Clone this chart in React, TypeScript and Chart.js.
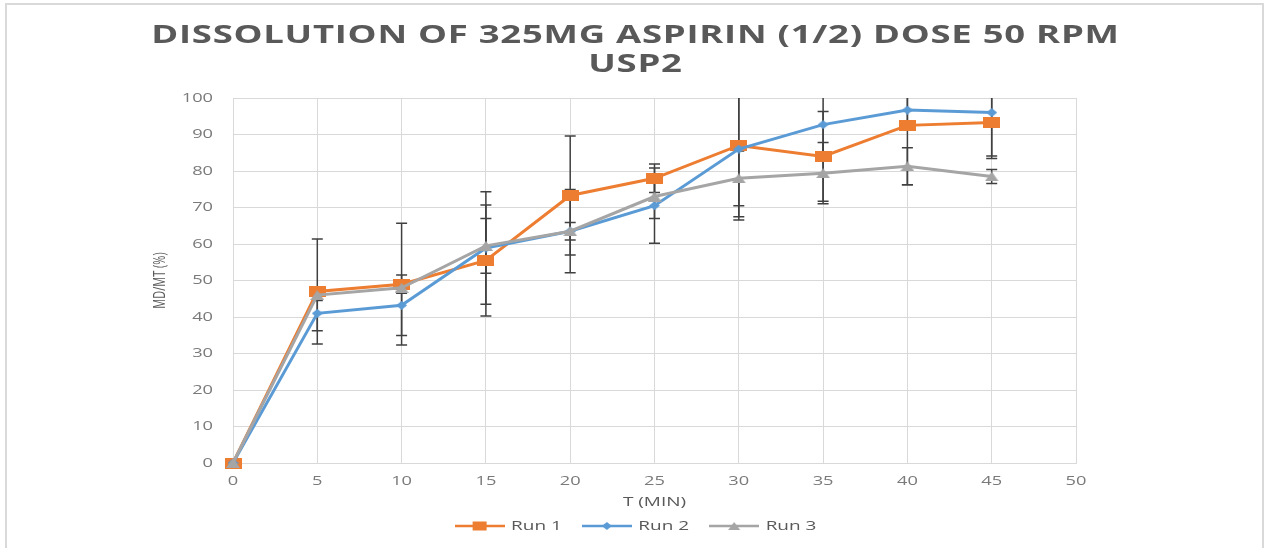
import React, { useEffect, useRef } from 'react';
import { Chart, registerables } from 'chart.js';

Chart.register(...registerables);

// ---------- data ----------
const times = [0, 5, 10, 15, 20, 25, 30, 35, 40, 45];
const run1 = [0, 47, 49, 55.5, 73.3, 78, 87, 84, 92.5, 93.3];
const run2 = [0, 41, 43.2, 58.9, 63.5, 70.5, 86, 92.7, 96.7, 96];
const run3 = [0, 46, 48, 59.5, 63.5, 73, 78, 79.4, 81.3, 78.5];
const err1 = [0, 14.4, 16.7, 15.2, 16.3, 3.9, 20.4, 12.3, 16.3, 9.2];
const err2 = [0, 4.8, 8.3, 15.4, 2.4, 10.3, 18.5, 9, 5, 12.6];
const err3 = [0, 1.5, 1.5, 7.5, 11.4, 6, 7.5, 8.4, 5.1, 1.9];
const seriesNames = ['Run 1', 'Run 2', 'Run 3'];
const titleLines = ['DISSOLUTION OF 325MG ASPIRIN (1/2) DOSE 50 RPM', 'USP2'];
const xTitle = 'T (MIN)';
const yTitle = 'MD/MT (%)';

// ---------- styles ----------
const FONT = "'Open Sans', 'DejaVu Sans', sans-serif";
const STRETCH = 1.46;
const TITLE_SPACING = '0.5px';
const COLORS = ['#ED7D31', '#5B9BD5', '#A5A5A5'];
const SHAPES = ['square', 'diamond', 'triangle'];
const POINT_SIZES = [[17, 11], [11, 9], [14, 10]];
const LEGEND_SIZES = [[14, 9], [10, 8], [12, 8]];
const GRID = '#d9d9d9';
const TICK = '#7a7a7a';
const TEXT = '#595959';
const ERR = '#404040';
const CAP = 5.5;

function drawShape(ctx: CanvasRenderingContext2D, shape: string, cx: number, cy: number, w: number, h: number) {
  ctx.beginPath();
  if (shape === 'square') {
    ctx.rect(cx - w / 2, cy - h / 2, w, h);
  } else if (shape === 'diamond') {
    ctx.moveTo(cx, cy - h / 2);
    ctx.lineTo(cx + w / 2, cy);
    ctx.lineTo(cx, cy + h / 2);
    ctx.lineTo(cx - w / 2, cy);
    ctx.closePath();
  } else {
    ctx.moveTo(cx, cy - h / 2);
    ctx.lineTo(cx + w / 2, cy + h / 2);
    ctx.lineTo(cx - w / 2, cy + h / 2);
    ctx.closePath();
  }
  ctx.fill();
}

function makePoint(shape: string, w: number, h: number, color: string) {
  const c = document.createElement('canvas');
  c.width = w;
  c.height = h;
  const g = c.getContext('2d')!;
  g.fillStyle = color;
  drawShape(g, shape, w / 2, h / 2, w, h);
  return c;
}

function makeLegendGlyph(shape: string, w: number, h: number, color: string) {
  const c = document.createElement('canvas');
  c.width = 50;
  c.height = 14;
  const g = c.getContext('2d')!;
  g.strokeStyle = color;
  g.lineWidth = 2.5;
  g.beginPath();
  g.moveTo(0, 7);
  g.lineTo(50, 7);
  g.stroke();
  g.fillStyle = color;
  drawShape(g, shape, 25, 7, w, h);
  return c;
}

// the reference picture is stretched horizontally; reproduce that on the text
function stretchContext(ctx: any, sx: number) {
  if (ctx.__stretched) return;
  ctx.__stretched = true;
  const fill = ctx.fillText.bind(ctx);
  const measure = ctx.measureText.bind(ctx);
  ctx.fillText = (text: string, x: number, y: number) => {
    const m = ctx.getTransform();
    const px = m.a * x + m.c * y + m.e;
    const py = m.b * x + m.d * y + m.f;
    ctx.save();
    if (titleLines.includes(text)) ctx.letterSpacing = TITLE_SPACING;
    ctx.setTransform(new DOMMatrix().translate(px, py).scale(sx, 1).translate(-px, -py).multiply(m));
    fill(text, x, y);
    ctx.restore();
  };
  ctx.measureText = (text: string) => {
    const r = measure(text);
    return {
      width: r.width * sx,
      actualBoundingBoxAscent: r.actualBoundingBoxAscent,
      actualBoundingBoxDescent: r.actualBoundingBoxDescent,
      actualBoundingBoxLeft: r.actualBoundingBoxLeft * sx,
      actualBoundingBoxRight: r.actualBoundingBoxRight * sx,
      fontBoundingBoxAscent: r.fontBoundingBoxAscent,
      fontBoundingBoxDescent: r.fontBoundingBoxDescent,
    };
  };
}

const seriesValues = [run1, run2, run3];
const seriesErrors = [err1, err2, err3];

const errorBarPlugin = {
  id: 'errorBars',
  beforeDatasetsDraw(chart: any) {
    const { ctx, chartArea, scales } = chart;
    const xs = scales.x;
    const ys = scales.y;
    ctx.save();
    ctx.beginPath();
    ctx.rect(chartArea.left, chartArea.top, chartArea.right - chartArea.left, chartArea.bottom - chartArea.top);
    ctx.clip();
    ctx.strokeStyle = ERR;
    ctx.lineWidth = 1.5;
    seriesValues.forEach((vals, i) => {
      const errs = seriesErrors[i];
      vals.forEach((v, j) => {
        const e = errs[j];
        if (!e) return;
        const x = xs.getPixelForValue(times[j]);
        const yt = ys.getPixelForValue(v + e);
        const yb = ys.getPixelForValue(v - e);
        ctx.beginPath();
        ctx.moveTo(x, yt);
        ctx.lineTo(x, yb);
        ctx.moveTo(x - CAP, yt);
        ctx.lineTo(x + CAP, yt);
        ctx.moveTo(x - CAP, yb);
        ctx.lineTo(x + CAP, yb);
        ctx.stroke();
      });
    });
    ctx.restore();
  },
};

export default function App() {
  const ref = useRef<HTMLCanvasElement | null>(null);

  useEffect(() => {
    const canvas = ref.current;
    if (!canvas) return;
    const ctx = canvas.getContext('2d')!;
    stretchContext(ctx, STRETCH);

    const pointImgs = SHAPES.map((s, i) => makePoint(s, POINT_SIZES[i][0], POINT_SIZES[i][1], COLORS[i]));
    const legendImgs = SHAPES.map((s, i) => makeLegendGlyph(s, LEGEND_SIZES[i][0], LEGEND_SIZES[i][1], COLORS[i]));

    const datasets = seriesValues.map((vals, i) => ({
      label: seriesNames[i],
      data: times.map((t, j) => ({ x: t, y: vals[j] })),
      borderColor: COLORS[i],
      backgroundColor: COLORS[i],
      borderWidth: 3,
      pointStyle: pointImgs[i],
      pointRadius: 6,
      tension: 0,
      clip: false,
      order: 2 - i,
    }));

    const chart = new Chart(ctx, {
      type: 'line',
      data: { datasets },
      plugins: [errorBarPlugin],
      options: {
        animation: false,
        responsive: false,
        events: [],
        layout: { padding: { left: 150, right: 150, top: 4, bottom: 5.5 } },
        plugins: {
          title: {
            display: true,
            text: titleLines,
            color: TEXT,
            font: { family: FONT, size: 25, weight: 'bold', lineHeight: 1.14 },
            padding: { top: 17.75, bottom: 19.25 },
          },
          legend: {
            position: 'bottom',
            labels: {
              usePointStyle: true,
              pointStyleWidth: 50,
              padding: 20,
              color: TEXT,
              font: { family: FONT, size: 13 },
              generateLabels: () =>
                seriesNames.map((name, i) => ({
                  text: name,
                  fillStyle: COLORS[i],
                  strokeStyle: COLORS[i],
                  lineWidth: 0,
                  pointStyle: legendImgs[i] as any,
                  hidden: false,
                  datasetIndex: i,
                  fontColor: TEXT,
                })),
            },
          },
          tooltip: { enabled: false },
        },
        scales: {
          x: {
            type: 'linear',
            min: 0,
            max: 50,
            ticks: { stepSize: 5, padding: 11, color: TICK, font: { family: FONT, size: 12.5 } },
            grid: { color: GRID, drawTicks: false },
            border: { color: GRID },
            title: {
              display: true,
              text: xTitle,
              color: TEXT,
              font: { family: FONT, size: 13 },
              padding: { top: 5.2, bottom: -10.3 },
            },
            afterFit: (s: any) => {
              s.height = 36.5;
            },
          },
          y: {
            type: 'linear',
            min: 0,
            max: 100,
            ticks: { stepSize: 10, padding: 20, color: TICK, font: { family: FONT, size: 12.5 } },
            grid: { color: GRID, drawTicks: false },
            border: { display: false },
            title: {
              display: true,
              text: yTitle,
              color: TEXT,
              font: { family: FONT, size: 11 },
              padding: { top: 4, bottom: 0 },
            },
            afterFit: (s: any) => {
              s.width = 83;
            },
          },
          y2: {
            type: 'linear',
            position: 'right',
            display: true,
            grid: { display: false, drawTicks: false },
            ticks: { display: false },
            border: { display: false },
            afterFit: (s: any) => {
              s.width = 45;
            },
          },
        },
      } as any,
    });

    return () => {
      chart.destroy();
    };
  }, []);

  return (
    <div style={{ position: 'fixed', left: 0, top: 0, width: 1271, height: 548, overflow: 'hidden', background: '#ffffff' }}>
      <div
        style={{
          position: 'absolute',
          left: 5,
          top: 3,
          width: 1259,
          height: 600,
          border: '2px solid #d9d9d9',
          boxSizing: 'border-box',
        }}
      />
      <canvas ref={ref} width={1271} height={548} style={{ position: 'absolute', left: 0, top: 0, display: 'block' }} />
    </div>
  );
}
